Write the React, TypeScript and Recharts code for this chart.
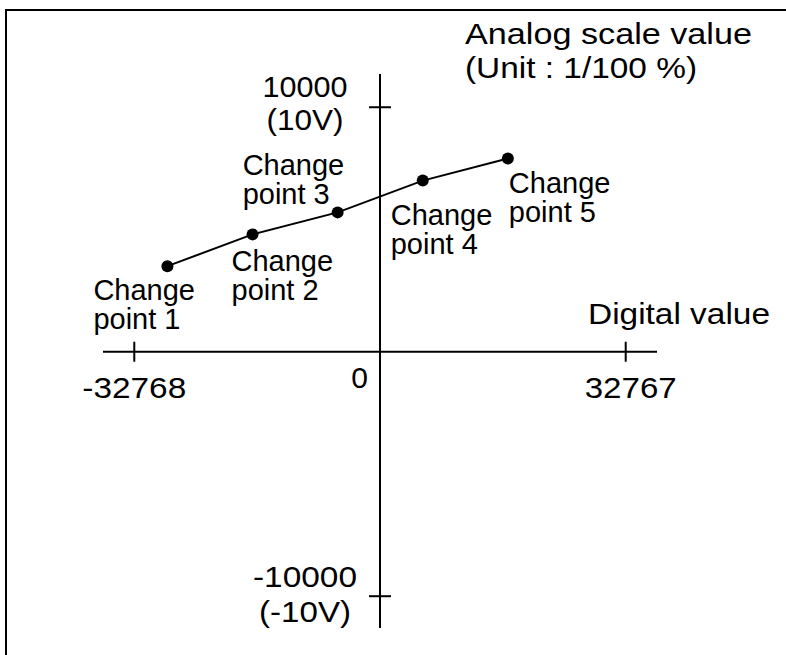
import { ComposedChart, Line, XAxis, YAxis, ReferenceLine, ReferenceDot } from 'recharts';

// change points: digital input value -> analog scale value (1/100 %)
const digitalValues = [-28350, -17000, -5650, 5700, 17050];
const analogValues = [3500, 4800, 5700, 7000, 7900];
const pointNames = [
    ['Change', 'point 1'],
    ['Change', 'point 2'],
    ['Change', 'point 3'],
    ['Change', 'point 4'],
    ['Change', 'point 5'],
];

const xTicks = [-32768, 32767];
const xTickLabels = ['-32768', '32767'];
const yTicks = [10000, -10000];
const yTickLabels = [['10000', '(10V)'], ['-10000', '(-10V)']];

const X_LIMIT = 36940;
const Y_TOP = 11360;
const Y_BOTTOM = -11300;

const data = digitalValues.map((x, i) => ({ x, y: analogValues[i], name: pointNames[i] }));

// label placement relative to each dot (left edge, first baseline)
const pointLabelOffsets = [
    { dx: -74, dy: 34 },
    { dx: -21, dy: 37 },
    { dx: -95, dy: -37 },
    { dx: -32, dy: 44 },
    { dx: 1, dy: 34 },
];
const xTickLabelStyle = [
    { dx: 0, width: 104 },
    { dx: 5, width: 92 },
];
const yTickLabelStyle = [
    { dy: -10, gap: 33, widths: [85, 77] },
    { dy: -9, gap: 35, widths: [104, 92] },
];

const FONT = '"Liberation Sans", Arial, Helvetica, sans-serif';

function Txt({ x, y, children, size = 30, anchor = 'start', length }: any) {
    return (
        <text
            x={x}
            y={y}
            fontFamily={FONT}
            fontSize={size}
            fill="#000"
            textAnchor={anchor}
            textLength={length}
            lengthAdjust={length ? 'spacingAndGlyphs' : undefined}
        >
            {children}
        </text>
    );
}

export default function App() {
    return (
        <div style={{ position: 'absolute', left: 0, top: 0, width: 786, height: 655, background: '#fff', overflow: 'hidden' }}>
            <div style={{ position: 'absolute', left: 5, top: 9, right: -10, bottom: -10, borderLeft: '2px solid #000', borderTop: '2px solid #000' }} />
            <div style={{ position: 'absolute', left: 0, top: 0 }}>
                <ComposedChart width={786} height={655} data={data} margin={{ top: 74, right: 129, bottom: 27, left: 103 }}>
                    <XAxis dataKey="x" type="number" domain={[-X_LIMIT, X_LIMIT]} hide />
                    <YAxis type="number" domain={[Y_BOTTOM, Y_TOP]} hide />

                    <ReferenceLine x={0} stroke="#000" strokeWidth={2} />
                    <ReferenceLine y={0} stroke="#000" strokeWidth={2} />

                    {xTicks.map((t, i) => (
                        <ReferenceDot
                            key={'xt' + t}
                            x={t}
                            y={0}
                            ifOverflow="visible"
                            shape={(p: any) => (
                                <g>
                                    <line x1={p.cx} x2={p.cx} y1={p.cy - 10} y2={p.cy + 10} stroke="#000" strokeWidth={2} />
                                    <Txt x={p.cx + xTickLabelStyle[i].dx} y={p.cy + 46} anchor="middle" length={xTickLabelStyle[i].width}>
                                        {xTickLabels[i]}
                                    </Txt>
                                </g>
                            )}
                        />
                    ))}

                    {yTicks.map((t, i) => (
                        <ReferenceDot
                            key={'yt' + t}
                            x={0}
                            y={t}
                            ifOverflow="visible"
                            shape={(p: any) => (
                                <g>
                                    <line x1={p.cx - 11} x2={p.cx + 11} y1={p.cy} y2={p.cy} stroke="#000" strokeWidth={2} />
                                    {yTickLabels[i].map((s, j) => (
                                        <Txt
                                            key={s}
                                            x={p.cx - 75}
                                            y={p.cy + yTickLabelStyle[i].dy + j * yTickLabelStyle[i].gap}
                                            anchor="middle"
                                            length={yTickLabelStyle[i].widths[j]}
                                        >
                                            {s}
                                        </Txt>
                                    ))}
                                </g>
                            )}
                        />
                    ))}

                    <ReferenceDot
                        x={0}
                        y={0}
                        ifOverflow="visible"
                        shape={(p: any) => (
                            <Txt x={p.cx - 12} y={p.cy + 36} anchor="end">0</Txt>
                        )}
                    />
                    <ReferenceDot
                        x={X_LIMIT}
                        y={0}
                        ifOverflow="visible"
                        shape={(p: any) => (
                            <Txt x={p.cx - 69} y={p.cy - 28} length={182}>Digital value</Txt>
                        )}
                    />
                    <ReferenceDot
                        x={0}
                        y={Y_TOP}
                        ifOverflow="visible"
                        shape={(p: any) => (
                            <g>
                                <Txt x={p.cx + 85} y={p.cy - 30} length={287}>Analog scale value</Txt>
                                <Txt x={p.cx + 85} y={p.cy + 4} length={232}>(Unit : 1/100 %)</Txt>
                            </g>
                        )}
                    />

                    <Line
                        dataKey="y"
                        stroke="#000"
                        strokeWidth={2}
                        isAnimationActive={false}
                        activeDot={false}
                        dot={(p: any) => {
                            const off = pointLabelOffsets[p.index];
                            return (
                                <g key={'pt' + p.index}>
                                    <circle cx={p.cx} cy={p.cy} r={6} fill="#000" />
                                    {p.payload.name.map((s: string, j: number) => (
                                        <Txt key={s} x={p.cx + off.dx} y={p.cy + off.dy + j * 29} size={29}>{s}</Txt>
                                    ))}
                                </g>
                            );
                        }}
                    />
                </ComposedChart>
            </div>
        </div>
    );
}
